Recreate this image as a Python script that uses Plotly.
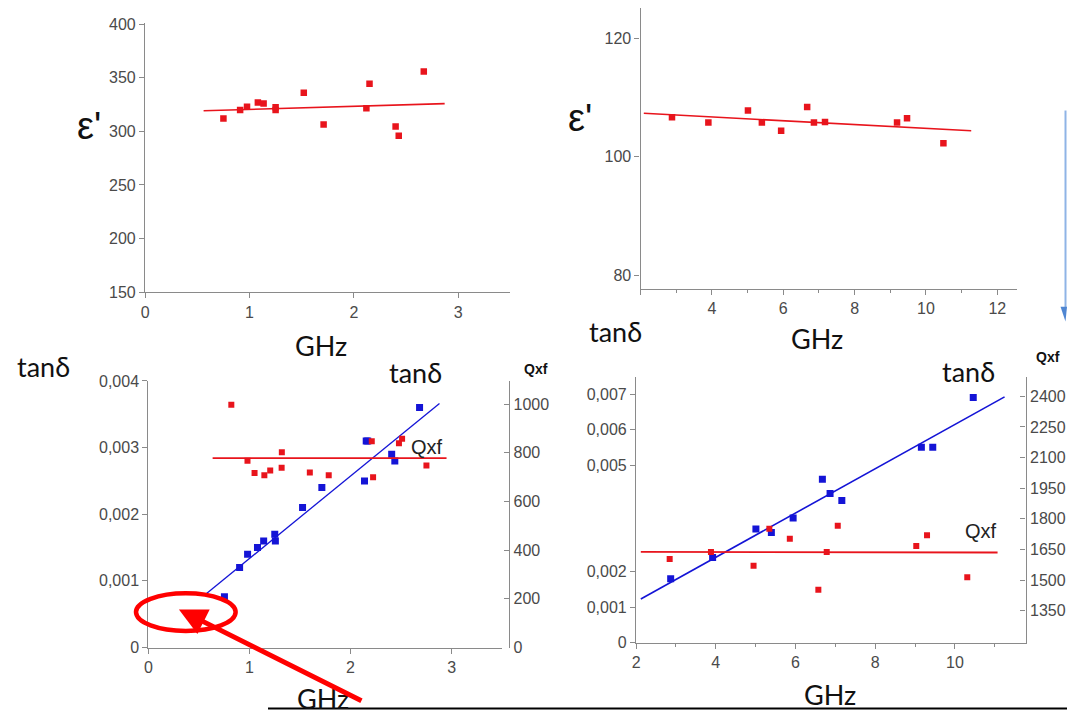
import plotly.graph_objects as go

W, H = 1067, 719
def X(px): return px / W
def Y(py): return 1 - py / H

RED = "#e8141c"
BLUE = "#1414d6"
AX = "#8a8a8a"
TXT = "#4a4a4a"

# ---- Panel 1: permittivity, low-frequency set ----
f1 = [0.75, 0.91, 0.976, 1.08, 1.135, 1.25, 1.25, 1.52, 1.71, 2.12, 2.15, 2.40, 2.43, 2.67]
e1 = [312, 320, 323, 327, 326, 322.5, 320, 336, 306.5, 321.5, 344.5, 304.5, 296, 356]
fit1_x = [0.56, 2.87]
fit1_y = [319.2, 325.9]

# ---- Panel 2: permittivity, high-frequency set ----
f2 = [2.88, 3.90, 5.01, 5.40, 5.94, 6.67, 6.86, 7.17, 9.19, 9.47, 10.49]
e2 = [106.7, 105.8, 107.8, 105.8, 104.4, 108.4, 105.8, 105.9, 105.8, 106.5, 102.3]
fit2_x = [2.09, 11.27]
fit2_y = [107.35, 104.4]

# ---- Panel 3: loss tangent and Qxf, low-frequency set ----
f3t = [0.752, 0.902, 0.981, 1.079, 1.14, 1.25, 1.256, 1.525, 1.716, 2.138, 2.155, 2.17, 2.407, 2.438, 2.683]
t3 = [0.00076, 0.0012, 0.0014, 0.0015, 0.0016, 0.0017, 0.0016, 0.0021, 0.0024, 0.0025, 0.0031, 0.0031, 0.0029, 0.0028, 0.0036]
fit3t_x = [0.572, 2.88]
fit3t_y = [0.000806, 0.003663]
f3q = [0.82, 0.98, 1.05, 1.147, 1.205, 1.32, 1.318, 1.597, 1.784, 2.21, 2.223, 2.479, 2.51, 2.751]
q3 = [997, 767, 717, 708, 727, 802, 739, 719, 708, 847, 699, 839, 858, 748]
fit3q_x = [0.635, 2.95]
fit3q_y = [778, 778]

# ---- Panel 4: loss tangent and Qxf, high-frequency set ----
f4t = [2.867, 3.92, 5.006, 5.394, 5.94, 6.674, 6.867, 7.162, 9.158, 9.444, 10.46]
t4 = [0.0018, 0.0024, 0.0032, 0.0031, 0.00351, 0.0046, 0.0042, 0.0040, 0.0055, 0.0055, 0.0069]
fit4t_x = [2.118, 11.246]
fit4t_y = [0.00123, 0.00692]
f4q = [2.842, 3.878, 4.947, 5.343, 5.857, 6.573, 6.783, 7.06, 9.03, 9.30, 10.31]
q4 = [1603, 1638, 1570, 1751, 1702, 1452, 1637, 1766, 1667, 1720, 1514]
fit4q_x = [2.118, 11.07]
fit4q_y = [1638, 1635]

# tick labels
y1_ticks = [150, 200, 250, 300, 350, 400]
x2_ticks = [2, 4, 6, 8, 10, 12]
x2_labels = ["", "4", "6", "8", "10", "12"]
y2_ticks = [80, 100, 120]
y3_ticks = [0, 0.001, 0.002, 0.003, 0.004]
y3_labels = ["0", "0,001", "0,002", "0,003", "0,004"]
y5_ticks = [0, 200, 400, 600, 800, 1000]
y4_ticks = [0, 0.001, 0.002, 0.005, 0.006, 0.007]
y4_labels = ["0", "0,001", "0,002", "0,005", "0,006", "0,007"]
y6_ticks = [1350, 1500, 1650, 1800, 1950, 2100, 2250, 2400]

fig = go.Figure()

def pts(x, y, color, xa, ya, size=6.5):
    fig.add_trace(go.Scatter(x=x, y=y, mode="markers", xaxis=xa, yaxis=ya,
                             marker=dict(symbol="square", size=size, color=color, line=dict(width=0))))

def line(x, y, color, xa, ya, w=1.6):
    fig.add_trace(go.Scatter(x=x, y=y, mode="lines", xaxis=xa, yaxis=ya,
                             line=dict(color=color, width=w)))

line(fit1_x, fit1_y, RED, "x", "y")
pts(f1, e1, RED, "x", "y")
line(fit2_x, fit2_y, RED, "x2", "y2")
pts(f2, e2, RED, "x2", "y2")
line(fit3t_x, fit3t_y, BLUE, "x3", "y3", 1.3)
pts(f3t, t3, BLUE, "x3", "y3", 7)
line(fit3q_x, fit3q_y, RED, "x3", "y5", 1.8)
pts(f3q, q3, RED, "x3", "y5", 6)
line(fit4t_x, fit4t_y, BLUE, "x4", "y4", 1.6)
pts(f4t, t4, BLUE, "x4", "y4", 7)
line(fit4q_x, fit4q_y, RED, "x4", "y6", 1.8)
pts(f4q, q4, RED, "x4", "y6", 6)

tickfont = dict(family="Liberation Sans, Arial, sans-serif", size=16, color=TXT)

def axstyle(**kw):
    d = dict(showline=True, linecolor=AX, linewidth=1.4, ticks="outside", ticklen=5,
             tickcolor=AX, tickwidth=1.2, showgrid=False, zeroline=False,
             tickfont=tickfont, fixedrange=True)
    d.update(kw)
    return d

fig.update_layout(
    width=W, height=H, margin=dict(l=0, r=0, t=0, b=0),
    paper_bgcolor="white", plot_bgcolor="rgba(0,0,0,0)", showlegend=False,
    xaxis=axstyle(domain=[X(141.7), X(508.3)], range=[0, 3.5], anchor="y",
                  tickmode="array", tickvals=[0, 1, 2, 3]),
    yaxis=axstyle(domain=[Y(291), Y(15)], range=[150, 401.5], anchor="x",
                  tickmode="array", tickvals=y1_ticks),
    xaxis2=axstyle(domain=[X(639), X(1016.7)], range=[2, 12.55], anchor="y2",
                   tickmode="array", tickvals=x2_ticks, ticktext=x2_labels,
                   minor=dict(tickmode="linear", dtick=1, tick0=2, ticks="outside", ticklen=3, tickcolor=AX)),
    yaxis2=axstyle(domain=[Y(287.3), Y(0)], range=[77.81, 125.1], anchor="x2",
                   tickmode="array", tickvals=y2_ticks),
    xaxis3=axstyle(domain=[X(145), X(500)], range=[0, 3.5], anchor="y3",
                   tickmode="array", tickvals=[0, 1, 2, 3]),
    yaxis3=axstyle(domain=[Y(655), Y(382)], range=[0, 0.004], anchor="x3",
                   tickmode="array", tickvals=y3_ticks, ticktext=y3_labels),
    yaxis5=axstyle(overlaying="y3", anchor="free", position=X(507), side="right",
                   range=[0, 1095], ticks="inside", tickmode="array", tickvals=y5_ticks),
    xaxis4=axstyle(domain=[X(634.5), X(1025.5)], range=[2, 11.775], anchor="y4",
                   tickmode="linear", tick0=2, dtick=2,
                   minor=dict(dtick=1, tick0=2, ticks="outside", ticklen=3, tickcolor=AX)),
    yaxis4=axstyle(domain=[Y(650), Y(378.3)], range=[0, 0.00747], anchor="x4",
                   tickmode="array", tickvals=y4_ticks, ticktext=y4_labels),
    yaxis6=axstyle(overlaying="y4", anchor="x4", side="right",
                   range=[1193.6, 2492.8], ticks="inside", tickmode="array", tickvals=y6_ticks),
)

BIG = "Lato, Open Sans, sans-serif"
def txt(s, px, py, size=27, family=BIG, color="#111111", xanchor="center", bold=False):
    if bold:
        s = "<b>" + s + "</b>"
    fig.add_annotation(text=s, x=X(px), y=Y(py), xref="paper", yref="paper",
                       showarrow=False, xanchor=xanchor, yanchor="middle",
                       font=dict(family=family, size=size, color=color))

# covering patches (collage overlaps)
shapes = [
    dict(type="rect", xref="paper", yref="paper", x0=X(550), x1=X(633), y0=Y(546), y1=Y(492),
         fillcolor="white", line=dict(width=0), layer="above"),
    # red ellipse
    dict(type="circle", xref="paper", yref="paper", x0=X(132.5), x1=X(232.5), y0=Y(638), y1=Y(599.5),
         line=dict(color="#ff0000", width=4.5), layer="above"),
    # bottom rule
    dict(type="line", xref="paper", yref="paper", x0=X(265), x1=X(1067), y0=Y(717.5), y1=Y(717.5),
         line=dict(color="black", width=2), layer="above"),
    # blue arrow at right edge
    dict(type="line", xref="paper", yref="paper", x0=X(1065.5), x1=X(1065.5), y0=Y(105), y1=Y(308),
         line=dict(color="#8fb4e6", width=2), layer="above"),
    dict(type="path", xref="paper", yref="paper",
         path=f"M {X(1060.5)} {Y(306)} L {X(1067)} {Y(306)} L {X(1065.5)} {Y(321)} Z",
         fillcolor="#4f86d2", line=dict(width=0), layer="above"),
]
fig.update_layout(shapes=shapes)

# texts
txt("ε'", 85, 121, size=38, family="Liberation Sans, Arial, sans-serif")
txt("ε'", 578, 113, size=38, family="Liberation Sans, Arial, sans-serif")
txt("GHz", 318, 346)
txt("GHz", 816, 338)
txt("tanδ", 40, 367)
txt("tanδ", 614, 331)
txt("tanδ", 413, 373)
txt("tanδ", 968, 372)
txt("Qxf", 425, 450, size=20, family="Liberation Sans, Arial, sans-serif", color="#222222")
txt("Qxf", 981, 536, size=20, family="Liberation Sans, Arial, sans-serif", color="#222222")
txt("Qxf", 534, 370, size=14, family="Liberation Sans, Arial, sans-serif", color="#111111", bold=True)
txt("Qxf", 1034, 357, size=14, family="Liberation Sans, Arial, sans-serif", color="#111111",
    xanchor="left", bold=True)
txt("GHz", 320, 707)
txt("GHz", 829, 703)

# red arrow pointing into the ellipse
fig.add_annotation(x=X(175.6), y=Y(616), xref="paper", yref="paper", text="",
                   showarrow=True, arrowhead=2, arrowsize=1.1, arrowwidth=5, arrowcolor="#ff0000",
                   ax=184, ay=92, axref="pixel", ayref="pixel")

fig.write_html("out.html")
